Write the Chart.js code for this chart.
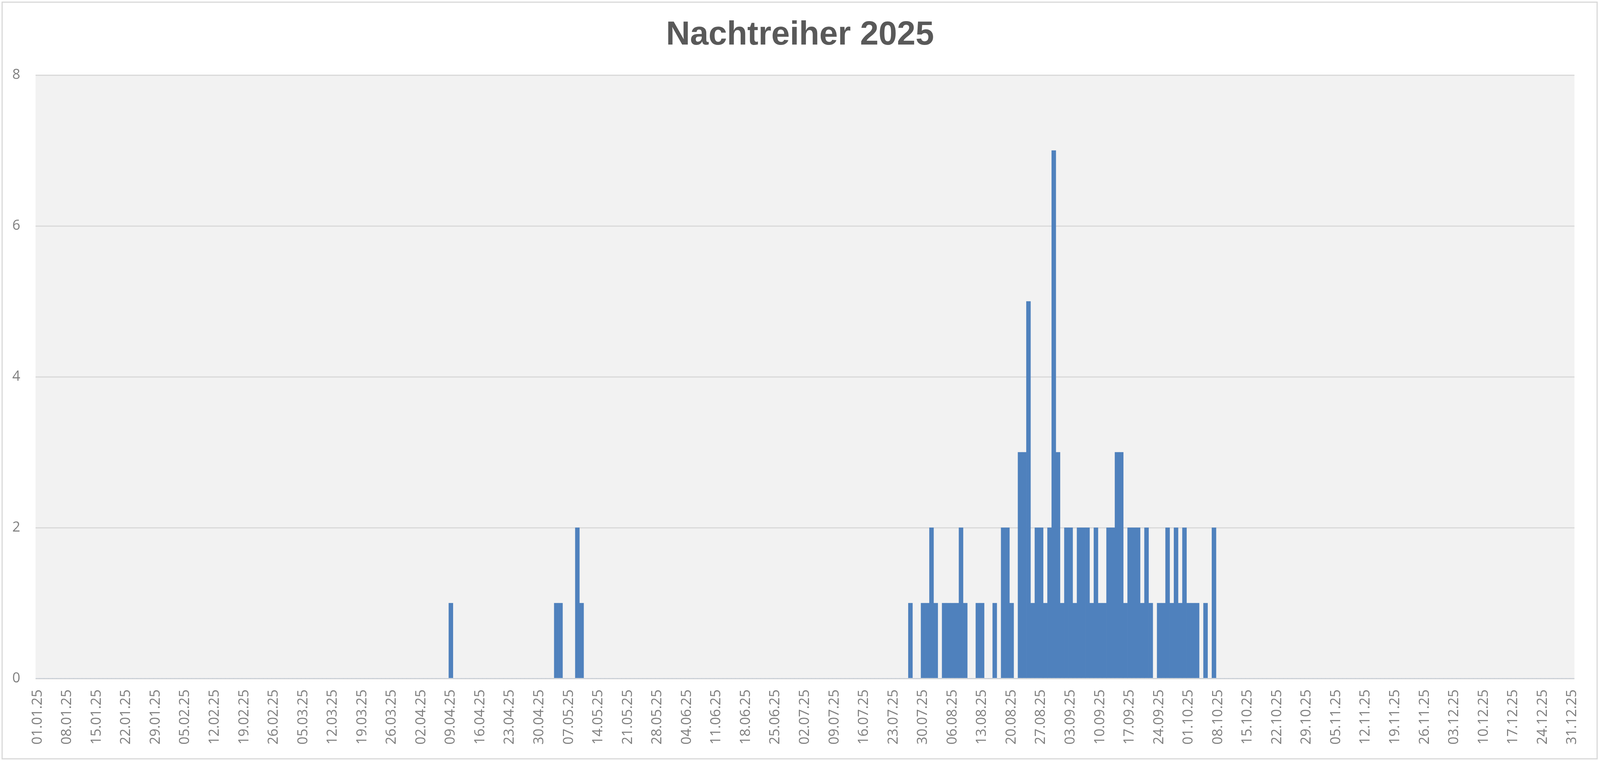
<!DOCTYPE html>
<html>
<head>
<meta charset="utf-8">
<script src="https://cdn.jsdelivr.net/npm/chart.js@4.4.1/dist/chart.umd.min.js"></script>
<style>
  html, body { margin: 0; padding: 0; background: #ffffff; overflow: hidden; }
  canvas { display: block; }
</style>
</head>
<body>
<canvas id="c"></canvas>
<script>
// Daily counts, 2025 (one value per day)
const jan = [0,0,0,0,0,0,0,0,0,0,0,0,0,0,0,0,0,0,0,0,0,0,0,0,0,0,0,0,0,0,0];
const feb = [0,0,0,0,0,0,0,0,0,0,0,0,0,0,0,0,0,0,0,0,0,0,0,0,0,0,0,0];
const mar = [0,0,0,0,0,0,0,0,0,0,0,0,0,0,0,0,0,0,0,0,0,0,0,0,0,0,0,0,0,0,0];
const apr = [0,0,0,0,0,0,0,0,1,0,0,0,0,0,0,0,0,0,0,0,0,0,0,0,0,0,0,0,0,0];
const may = [0,0,0,1,1,0,0,0,2,1,0,0,0,0,0,0,0,0,0,0,0,0,0,0,0,0,0,0,0,0,0];
const jun = [0,0,0,0,0,0,0,0,0,0,0,0,0,0,0,0,0,0,0,0,0,0,0,0,0,0,0,0,0,0];
const jul = [0,0,0,0,0,0,0,0,0,0,0,0,0,0,0,0,0,0,0,0,0,0,0,0,0,0,1,0,0,1,1];
const aug = [2,1,0,1,1,1,1,2,1,0,0,1,1,0,0,1,0,2,2,1,0,3,3,5,1,2,2,1,2,7,3];
const sep = [1,2,2,1,2,2,2,1,2,1,1,2,2,3,3,1,2,2,2,1,2,1,0,1,1,2,1,2,1,2];
const oct = [1,1,1,0,1,0,2,0,0,0,0,0,0,0,0,0,0,0,0,0,0,0,0,0,0,0,0,0,0,0,0];
const nov = [0,0,0,0,0,0,0,0,0,0,0,0,0,0,0,0,0,0,0,0,0,0,0,0,0,0,0,0,0,0];
const dec = [0,0,0,0,0,0,0,0,0,0,0,0,0,0,0,0,0,0,0,0,0,0,0,0,0,0,0,0,0,0,0];

const months = [jan, feb, mar, apr, may, jun, jul, aug, sep, oct, nov, dec];

// Tick labels shown on the date axis (weekly)
const tickLabels = [
  "01.01.25","08.01.25","15.01.25","22.01.25","29.01.25","05.02.25","12.02.25","19.02.25","26.02.25",
  "05.03.25","12.03.25","19.03.25","26.03.25","02.04.25","09.04.25","16.04.25","23.04.25","30.04.25",
  "07.05.25","14.05.25","21.05.25","28.05.25","04.06.25","11.06.25","18.06.25","25.06.25","02.07.25",
  "09.07.25","16.07.25","23.07.25","30.07.25","06.08.25","13.08.25","20.08.25","27.08.25","03.09.25",
  "10.09.25","17.09.25","24.09.25","01.10.25","08.10.25","15.10.25","22.10.25","29.10.25","05.11.25",
  "12.11.25","19.11.25","26.11.25","03.12.25","10.12.25","17.12.25","24.12.25","31.12.25"
];

const yTicks = [0, 2, 4, 6, 8];
const title = "Nachtreiher 2025";

// Build category list (one per day) and the value series from the monthly arrays
const categories = [];
const values = [];
months.forEach((arr, m) => {
  arr.forEach((v, d) => {
    categories.push(String(d + 1).padStart(2, "0") + "." + String(m + 1).padStart(2, "0") + ".25");
    values.push(v);
  });
});
const tickSet = new Set(tickLabels);

// Layout relative to the actual viewport (reference designed at 4180 x 1947)
const W = window.innerWidth || 4180;
const H = window.innerHeight || 1947;
const sx = W / 4180, sy = H / 1947, fs = (sx + sy) / 2;
const cv = document.getElementById("c");
cv.width = W; cv.height = H;
cv.style.width = W + "px"; cv.style.height = H + "px";

const leftAxisWidth = 93 * sx;
const rightSpace = 60 * sx;
const titleSize = 86 * fs;
const titleTop = 39 * sy;
const titleBottom = 192 * sy - titleTop - titleSize * 1.2;

const plotBg = {
  id: "plotBg",
  beforeDraw(chart) {
    const { ctx, chartArea: a } = chart;
    ctx.save();
    ctx.fillStyle = "#ffffff";
    ctx.fillRect(0, 0, chart.width, chart.height);
    ctx.fillStyle = "#f2f2f2";
    ctx.fillRect(a.left, a.top, a.right - a.left, a.bottom - a.top);
    ctx.restore();
  },
  afterDraw(chart) {
    const { ctx } = chart;
    ctx.save();
    ctx.strokeStyle = "#d9d9d9";
    ctx.lineWidth = 3 * fs;
    ctx.strokeRect(5.5 * sx, 5.5 * sy, chart.width - 13 * sx, chart.height - 11 * sy);
    ctx.restore();
  }
};

const tickFont = { family: "'Open Sans', 'Noto Sans', sans-serif", size: 36 * fs };

new Chart(cv, {
  type: "bar",
  data: {
    labels: categories,
    datasets: [{
      label: title,
      data: values,
      backgroundColor: "#4f81bd",
      borderWidth: 0,
      barPercentage: 1.0,
      categoryPercentage: 1.0
    }]
  },
  options: {
    responsive: false,
    animation: false,
    devicePixelRatio: 1,
    layout: { padding: 0 },
    plugins: {
      legend: { display: false },
      tooltip: { enabled: false },
      title: {
        display: true,
        text: title,
        color: "#595959",
        font: { family: "'Liberation Sans', Arial, sans-serif", size: titleSize, weight: "bold" },
        padding: { top: titleTop, bottom: titleBottom }
      }
    },
    scales: {
      x: {
        type: "category",
        offset: true,
        grid: { display: false, drawTicks: false },
        border: { display: false },
        ticks: {
          autoSkip: false,
          minRotation: 90,
          maxRotation: 90,
          padding: 28 * sy,
          color: "#7f7f7f",
          font: tickFont,
          callback: function (val, idx) {
            const lab = categories[idx];
            return tickSet.has(lab) ? lab : null;
          }
        },
        afterFit(scale) { scale.height = 211 * sy; }
      },
      y: {
        min: yTicks[0],
        max: yTicks[yTicks.length - 1],
        grid: { color: "#d9d9d9", lineWidth: 3 * sy, drawTicks: false },
        border: { display: false },
        ticks: {
          stepSize: 2,
          padding: 40 * sx,
          color: "#7f7f7f",
          font: tickFont
        },
        afterFit(scale) { scale.width = leftAxisWidth; }
      },
      // empty right-hand axis that only reserves the white margin right of the plot
      yRight: {
        type: "linear",
        position: "right",
        min: yTicks[0],
        max: yTicks[yTicks.length - 1],
        grid: { display: false, drawTicks: false },
        border: { display: false },
        ticks: { display: false },
        afterFit(scale) { scale.width = rightSpace; }
      }
    }
  },
  plugins: [plotBg]
});
</script>
</body>
</html>
